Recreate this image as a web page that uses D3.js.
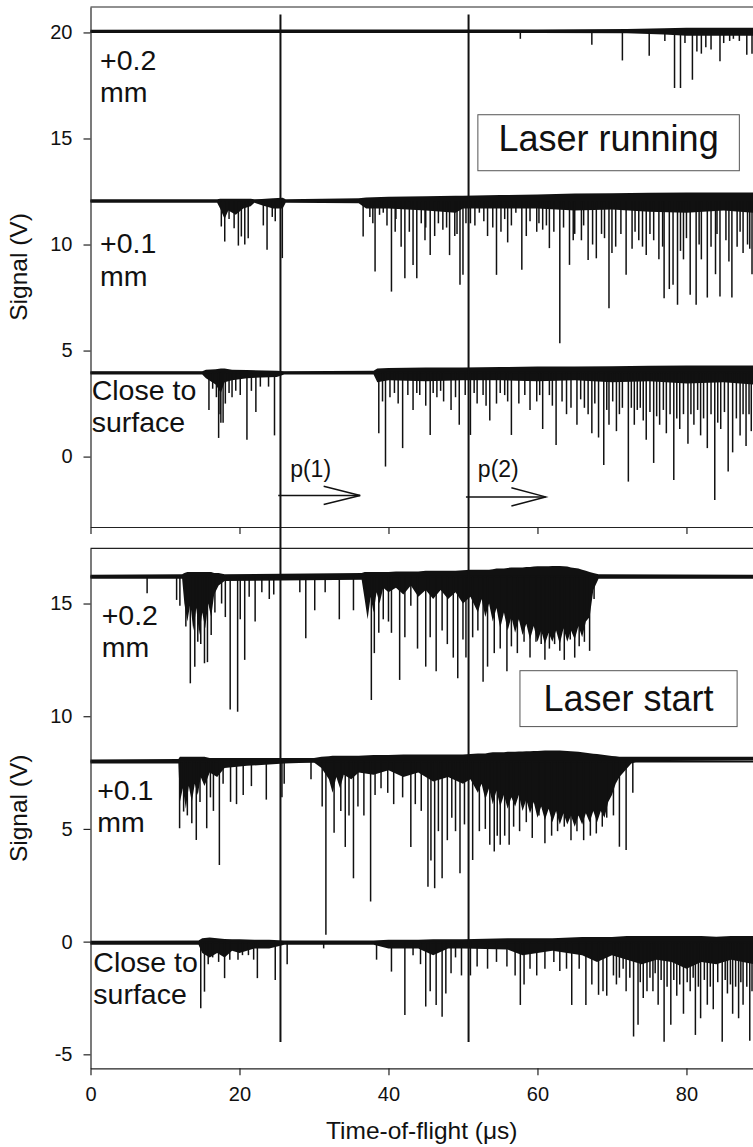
<!DOCTYPE html>
<html>
<head>
<meta charset="utf-8">
<script src="https://cdn.jsdelivr.net/npm/d3@7"></script>
<style>
  body { margin: 0; background: #fff; }
  text { font-family: Arial, 'Liberation Sans', sans-serif; fill: #111; }
</style>
</head>
<body>
<script>
// ticks
const xTicks = [0, 20, 40, 60, 80];
const topTicks = [0, 5, 10, 15, 20];
const botTicks = [-5, 0, 5, 10, 15];

// vertical marker lines (time, us)
const markerTimes = [25.5, 50.75];

// arrows p(1), p(2)
const arrowLabels = ['p(1)', 'p(2)'];
const arrowStart = [25.2, 50.4];
const arrowEnd = [36.2, 61.1];
const arrowHead = [31.3, 56.5];
const arrowY = [-1.83, -1.9];

// ---- Laser running (top panel) ----
const runBase = [20.05, 12.05, 3.95];

const runPlus02Band = [[0, 19.97, 20.13], [60, 19.97, 20.14], [72, 19.96, 20.16], [77, 19.9, 20.2], [80, 19.85, 20.22], [89, 19.85, 20.22]];
const runPlus02Spikes = [[57.7, 19.7], [67.3, 19.42], [71.4, 18.68], [75.0, 18.9], [77.1, 19.6], [78.4, 17.38], [79.2, 17.38],
  [79.8, 19.5], [80.8, 17.77], [81.4, 19.1], [82.0, 19.0], [82.6, 19.3], [83.3, 19.2], [84.5, 18.64], [85.0, 19.5],
  [85.8, 19.6], [86.3, 19.7], [87.1, 19.6], [88.1, 18.95], [88.8, 19.0]];

const runPlus01Band = [[0, 11.97, 12.13], [17, 11.97, 12.13], [17.4, 11.7, 12.16], [18, 11.2, 12.16], [18.5, 11.6, 12.16],
  [19.5, 11.4, 12.16], [20.5, 11.7, 12.16], [21.5, 11.8, 12.16], [22, 11.97, 12.14], [23, 11.85, 12.15], [24.5, 11.7, 12.18],
  [25.8, 11.7, 12.2], [26.2, 11.97, 12.14], [36, 11.95, 12.18], [37, 11.7, 12.22], [40, 11.7, 12.25], [45, 11.6, 12.28],
  [49, 11.5, 12.3], [50, 11.7, 12.3], [55, 11.7, 12.33], [60, 11.7, 12.36], [65, 11.6, 12.4], [70, 11.65, 12.42],
  [75, 11.55, 12.44], [80, 11.5, 12.45], [85, 11.6, 12.45], [89, 11.5, 12.45]];
const runPlus01Spikes = [[17.56, 10.85], [18.02, 10.14], [18.6, 11.2], [19.28, 10.77], [19.85, 9.95], [20.25, 10.38], [20.71, 10.0],
  [21.17, 10.3], [23.2, 10.9], [23.7, 9.75], [24.4, 11.3], [24.8, 11.1], [25.75, 9.36],
  [36.6, 10.38], [37.5, 11.3], [37.9, 11.0], [38.2, 8.73], [38.8, 11.4], [39.3, 11.5], [39.8, 10.9], [40.4, 7.78], [40.9, 10.6],
  [41.0, 11.2], [41.7, 9.9], [42.2, 8.41], [42.8, 10.6], [43.3, 9.04], [43.8, 8.41], [44.4, 11.0], [44.9, 10.2], [45.0, 10.8],
  [45.6, 9.51], [46.2, 10.4], [46.7, 11.0], [47.3, 10.7], [47.8, 10.8], [48.2, 9.5], [48.9, 10.4], [49.2, 10.5], [49.6, 8.1],
  [50.0, 8.57], [50.4, 11.0], [51.0, 11.0], [51.6, 10.9], [52.2, 11.5], [52.8, 11.1], [53.3, 10.4], [54.0, 10.8], [54.5, 8.57],
  [55.1, 10.6], [55.6, 11.2], [56.0, 10.1], [56.5, 10.9], [57.1, 11.5], [57.9, 8.81], [58.5, 10.4], [59.0, 11.1], [59.9, 10.6],
  [60.2, 11.0], [60.7, 10.7], [61.2, 10.9], [61.6, 9.83], [62.2, 10.6], [63.0, 5.35], [63.5, 10.8], [64.3, 9.04], [64.8, 10.2],
  [65.0, 10.5], [65.9, 10.2], [66.2, 10.9], [66.8, 9.27], [67.4, 10.0], [67.9, 9.35], [68.6, 10.5], [69.0, 10.3], [69.6, 7.0],
  [70.0, 9.6], [70.5, 9.9], [71.2, 10.5], [71.9, 8.57], [72.7, 9.8], [73.1, 10.6], [73.6, 10.2], [74.1, 9.9], [74.6, 9.5],
  [75.1, 10.5], [75.6, 10.2], [76.3, 9.3], [76.8, 9.9], [77.0, 7.47], [77.7, 7.9], [78.2, 8.1], [78.8, 7.16], [79.2, 9.7],
  [79.6, 9.3], [80.0, 10.3], [80.5, 7.63], [81.3, 7.16], [81.7, 10.0], [82.0, 9.3], [82.8, 7.5], [83.3, 9.9], [83.9, 8.6],
  [84.1, 10.5], [84.5, 7.55], [85.3, 10.2], [85.7, 9.2], [86.1, 7.5], [86.8, 9.9], [87.2, 10.6], [87.6, 9.6], [88.2, 10.0],
  [88.5, 9.8], [88.8, 8.6]];

const runCloseBand = [[0, 3.87, 4.03], [15, 3.87, 4.03], [15.5, 3.7, 4.1], [16.8, 3.4, 4.12], [17.5, 3.0, 4.15], [18, 3.5, 4.15],
  [19, 3.6, 4.1], [21, 3.7, 4.08], [25, 3.75, 4.05], [26, 3.87, 4.03], [38, 3.87, 4.05], [38.5, 3.5, 4.15], [40, 3.6, 4.18],
  [45, 3.55, 4.2], [50, 3.6, 4.2], [55, 3.6, 4.22], [60, 3.55, 4.25], [65, 3.6, 4.25], [70, 3.5, 4.26], [75, 3.55, 4.28],
  [80, 3.45, 4.3], [85, 3.5, 4.3], [89, 3.4, 4.3]];
const runCloseSpikes = [[15.9, 2.2], [16.4, 3.2], [16.9, 2.8], [17.2, 0.88], [17.4, 2.0], [17.5, 1.6], [17.8, 1.6], [18.1, 2.5],
  [18.6, 3.0], [19.0, 2.8], [19.5, 3.1], [20.1, 2.9], [21.0, 0.8], [21.6, 3.1], [22.2, 2.1], [22.8, 3.3], [23.9, 3.3], [24.7, 1.0],
  [38.7, 1.1], [39.2, 2.6], [39.6, -0.47], [40.2, 2.8], [40.8, 3.0], [41.3, 2.5], [41.9, 0.4], [42.6, 2.9], [43.3, 2.2],
  [43.8, 3.0], [44.2, 2.9], [45.0, 2.4], [45.6, 1.02], [46.0, 3.0], [46.5, 2.8], [47.0, 3.1], [47.4, 2.6], [48.4, 2.2],
  [49.0, 2.8], [49.5, 1.5], [50.3, 2.9], [51.0, 1.02], [51.5, 3.0], [51.9, 2.5], [52.7, 2.9], [53.1, 2.4], [53.6, 1.7],
  [54.5, 2.5], [55.0, 3.0], [55.6, 2.9], [56.0, 2.6], [56.5, 1.02], [57.5, 2.5], [58.3, 2.9], [59.0, 2.2], [59.9, 2.6],
  [60.3, 2.9], [60.7, 1.3], [61.6, 2.9], [62.0, 2.4], [62.5, 0.55], [63.3, 2.6], [63.9, 2.0], [64.5, 2.3], [65.3, 1.5],
  [65.8, 2.7], [66.3, 2.3], [66.8, 2.0], [67.3, 1.1], [67.7, 2.5], [68.2, 0.9], [68.9, -0.4], [69.3, 2.2], [69.6, 1.5],
  [70.1, 2.6], [70.6, 1.2], [71.0, 2.0], [71.4, 2.3], [72.2, -1.18], [72.6, 2.3], [73.0, 1.5], [73.4, 2.2], [73.8, 2.3],
  [74.2, 1.7], [74.6, 0.8], [75.1, 2.1], [75.6, -0.3], [76.0, 1.9], [76.4, 1.5], [76.9, 2.2], [77.3, 1.1], [77.8, 2.0],
  [78.3, -1.1], [78.7, 1.8], [79.1, 1.3], [79.6, 2.0], [80.2, 0.6], [80.6, 2.0], [81.0, 1.5], [81.5, 2.2], [81.9, 1.0],
  [82.3, 1.8], [82.8, 0.4], [83.3, 2.0], [83.8, -2.05], [84.2, 1.6], [84.6, 1.3], [85.1, 2.1], [85.6, -0.7], [86.2, 0.2],
  [86.7, 1.8], [87.2, 1.0], [87.6, 2.0], [88.0, 0.5], [88.4, 2.0], [88.7, 1.2]];

// ---- Laser start (bottom panel) ----
const startBase = [16.19, 7.99, -0.05];

const startPlus02Band = [[0, 16.1, 16.28], [12.3, 16.1, 16.3], [12.6, 15.0, 16.35], [13.0, 14.2, 16.4], [13.4, 15.0, 16.4],
  [13.8, 13.8, 16.4], [14.2, 14.8, 16.4], [14.6, 13.6, 16.4], [15.0, 14.6, 16.4], [15.4, 13.9, 16.4], [15.8, 15.0, 16.4],
  [16.2, 14.4, 16.4], [16.6, 15.4, 16.35], [17.2, 15.8, 16.35], [18, 16.0, 16.3], [36.4, 16.05, 16.35], [36.8, 15.2, 16.4],
  [37.2, 14.3, 16.4], [37.6, 15.3, 16.4], [38.0, 14.6, 16.4], [38.4, 15.5, 16.4], [38.8, 15.0, 16.4], [39.3, 15.7, 16.4],
  [40, 15.5, 16.4], [41, 15.7, 16.42], [42, 15.4, 16.42], [43, 15.8, 16.42], [44, 15.3, 16.42], [45, 15.6, 16.45],
  [46, 15.2, 16.45], [47, 15.6, 16.45], [48, 15.2, 16.45], [49, 15.5, 16.45], [50, 15.0, 16.48], [51, 15.3, 16.5],
  [52, 14.6, 16.5], [52.5, 15.2, 16.5], [53, 14.4, 16.5], [53.5, 15.0, 16.5], [54, 14.2, 16.52], [54.5, 14.8, 16.55],
  [55, 13.9, 16.55], [55.5, 14.6, 16.55], [56, 13.8, 16.58], [56.5, 14.4, 16.6], [57, 13.7, 16.6], [57.5, 14.3, 16.6],
  [58, 13.6, 16.6], [58.5, 14.1, 16.62], [59, 13.4, 16.62], [59.5, 14.0, 16.64], [60, 13.3, 16.65], [60.5, 13.8, 16.65],
  [61, 13.2, 16.65], [61.5, 13.7, 16.65], [62, 13.3, 16.66], [62.5, 13.8, 16.66], [63, 13.2, 16.66], [63.5, 13.9, 16.65],
  [64, 13.3, 16.64], [64.5, 13.8, 16.6], [65, 13.4, 16.58], [65.5, 14.0, 16.55], [66, 13.5, 16.5], [66.5, 14.2, 16.45],
  [67, 14.4, 16.4], [67.5, 15.6, 16.35], [68.2, 16.1, 16.3], [89, 16.1, 16.28]];
const startPlus02Spikes = [[7.6, 15.46], [11.56, 15.16], [12.0, 14.9], [12.8, 13.98], [13.4, 11.46], [14.0, 12.2], [14.4, 13.3],
  [14.8, 13.2], [15.3, 12.35], [15.7, 12.4], [16.2, 13.6], [16.7, 14.6], [17.6, 15.0], [18.1, 14.4], [18.75, 10.3],
  [19.75, 10.2], [20.1, 14.3], [20.7, 12.5], [21.3, 15.3], [22.1, 14.2], [23.0, 15.5], [24.0, 15.2], [24.6, 15.4],
  [28.1, 15.5], [28.9, 13.46], [30.1, 14.7], [31.5, 15.5], [33.4, 14.3], [35.3, 14.7], [37.0, 15.1], [37.7, 10.72],
  [38.1, 12.8], [38.7, 13.7], [39.3, 14.3], [40.0, 14.2], [40.4, 13.7], [41.5, 11.61], [42.2, 13.5], [43.0, 14.9],
  [43.9, 13.0], [45.0, 12.2], [45.6, 13.5], [46.4, 12.0], [47.2, 13.8], [47.9, 13.2], [48.7, 12.6], [49.3, 11.68],
  [50.0, 13.4], [50.4, 12.6], [51.3, 13.5], [52.0, 13.8], [52.7, 11.53], [53.3, 12.2], [54.2, 12.8], [55.0, 13.0],
  [55.9, 12.0], [56.5, 13.1], [57.3, 12.8], [58.2, 13.3], [59.0, 12.6], [59.8, 13.3], [60.5, 13.2], [61.0, 12.5],
  [61.6, 13.0], [62.3, 13.2], [63.0, 12.9], [63.6, 12.5], [64.4, 13.4], [65.0, 12.6], [65.6, 13.1], [66.3, 13.3],
  [67.0, 12.9], [67.6, 15.2]];

const startPlus01Band = [[0, 7.9, 8.08], [11.8, 7.9, 8.1], [12.0, 6.2, 8.2], [12.4, 6.8, 8.2], [12.8, 5.9, 8.2], [13.2, 6.9, 8.2],
  [13.6, 6.2, 8.2], [14.0, 7.0, 8.2], [14.4, 6.5, 8.2], [14.8, 7.3, 8.2], [15.3, 6.9, 8.2], [16, 7.5, 8.15], [17, 7.3, 8.15],
  [18, 7.7, 8.15], [21, 7.8, 8.15], [26, 7.9, 8.15], [30, 7.95, 8.15], [31, 7.7, 8.2], [32, 7.2, 8.22], [32.5, 6.6, 8.25],
  [33, 7.3, 8.25], [33.5, 6.8, 8.25], [34, 7.4, 8.25], [35, 7.2, 8.25], [36, 7.5, 8.25], [38, 7.4, 8.28], [40, 7.6, 8.28],
  [42, 7.3, 8.3], [44, 7.5, 8.3], [46, 7.1, 8.3], [48, 7.3, 8.3], [50, 7.0, 8.3], [51, 7.2, 8.32], [52, 6.6, 8.35],
  [52.5, 7.0, 8.35], [53, 6.3, 8.35], [53.5, 6.8, 8.38], [54, 6.1, 8.4], [54.5, 6.7, 8.4], [55, 6.0, 8.4], [55.5, 6.5, 8.4],
  [56, 5.9, 8.42], [56.5, 6.4, 8.42], [57, 6.0, 8.42], [57.5, 6.5, 8.44], [58, 5.8, 8.44], [58.5, 6.3, 8.45], [59, 5.7, 8.45],
  [59.5, 6.2, 8.46], [60, 5.5, 8.46], [60.5, 6.0, 8.47], [61, 5.4, 8.48], [61.5, 5.9, 8.48], [62, 5.3, 8.48], [62.5, 5.8, 8.48],
  [63, 5.2, 8.48], [63.5, 5.7, 8.47], [64, 5.2, 8.46], [64.5, 5.6, 8.45], [65, 5.1, 8.44], [65.5, 5.6, 8.42], [66, 5.2, 8.4],
  [66.5, 5.7, 8.38], [67, 5.3, 8.36], [67.5, 5.8, 8.34], [68, 5.3, 8.32], [68.5, 5.8, 8.3], [69, 5.5, 8.28], [69.5, 6.2, 8.26],
  [70, 6.5, 8.24], [70.5, 7.0, 8.22], [71, 7.3, 8.2], [71.8, 7.6, 8.2], [72.6, 7.9, 8.2], [73.5, 8.0, 8.2], [89, 8.05, 8.2]];
const startPlus01Spikes = [[11.96, 5.03], [12.5, 5.77], [13.0, 5.6], [13.6, 5.25], [14.2, 4.51], [14.7, 6.2], [15.6, 5.03],
  [16.1, 6.4], [16.5, 5.8], [17.3, 3.4], [17.8, 7.0], [18.8, 6.2], [19.6, 6.1], [20.5, 6.5], [21.6, 6.9], [23.6, 6.3],
  [25.7, 6.4], [26.0, 7.0], [29.6, 7.2], [31.1, 6.0], [31.6, 0.3], [32.7, 4.83], [33.6, 5.8], [34.2, 4.2], [34.7, 5.6],
  [35.3, 2.81], [35.9, 6.0], [36.7, 5.6], [37.6, 1.78], [38.2, 6.5], [39.0, 6.8], [39.9, 6.6], [40.7, 6.1], [41.9, 6.4],
  [43.0, 4.2], [43.6, 6.1], [44.4, 5.8], [45.3, 2.44], [45.7, 3.6], [46.2, 2.37], [46.7, 4.9], [47.2, 2.81], [47.9, 4.5],
  [48.5, 5.5], [49.0, 4.9], [49.6, 3.03], [50.2, 5.2], [51.3, 3.62], [52.2, 4.9], [53.0, 5.0], [53.6, 4.3], [54.2, 4.0],
  [54.6, 4.7], [55.0, 4.3], [55.6, 4.7], [56.2, 4.3], [56.8, 5.1], [57.6, 4.9], [58.5, 5.3], [59.3, 4.6], [60.2, 5.6],
  [61.0, 4.36], [61.9, 4.7], [62.7, 4.9], [63.6, 5.1], [64.5, 4.5], [65.3, 4.9], [66.2, 4.5], [67.1, 4.7], [67.9, 4.8],
  [68.7, 5.1], [69.3, 5.5], [70.2, 5.6], [71.0, 4.21], [71.9, 4.07], [72.8, 6.6]];

const startCloseBand = [[0, -0.14, 0.04], [14.5, -0.14, 0.05], [15, -0.5, 0.15], [16, -0.7, 0.18], [17, -0.5, 0.15],
  [18, -0.7, 0.12], [19, -0.4, 0.1], [20, -0.5, 0.1], [22, -0.3, 0.08], [24, -0.3, 0.08], [26, -0.14, 0.05], [38, -0.14, 0.05],
  [40, -0.3, 0.08], [44, -0.3, 0.08], [46, -0.6, 0.1], [48, -0.3, 0.1], [50, -0.3, 0.1], [56, -0.35, 0.15], [58, -0.6, 0.15],
  [62, -0.4, 0.15], [66, -0.6, 0.2], [68, -0.9, 0.2], [70, -0.6, 0.2], [72, -0.8, 0.25], [74, -1.0, 0.25], [76, -0.8, 0.25],
  [78, -0.9, 0.25], [80, -1.2, 0.25], [82, -0.9, 0.25], [84, -1.0, 0.22], [86, -0.8, 0.25], [89, -1.0, 0.25]];
const startCloseSpikes = [[14.8, -2.96], [15.3, -2.22], [15.8, -1.0], [16.4, -0.7], [17.2, -0.9], [18.0, -1.62], [18.7, -0.8],
  [19.8, -0.8], [20.4, -0.6], [21.2, -0.6], [21.9, -0.8], [22.4, -1.62], [24.8, -1.7], [26.4, -1.0], [31.3, -0.3],
  [38.4, -0.8], [40.4, -1.33], [42.2, -3.25], [43.3, -0.6], [44.3, -1.0], [45.0, -2.88], [45.6, -2.2], [46.4, -2.81],
  [47.2, -3.33], [47.7, -2.3], [48.4, -1.4], [49.0, -0.7], [49.8, -1.5], [51.0, -1.5], [51.9, -1.1], [53.3, -1.2],
  [54.5, -0.9], [55.9, -1.1], [57.0, -1.5], [57.7, -2.81], [58.2, -1.9], [59.0, -1.2], [59.9, -1.5], [61.0, -1.2],
  [62.2, -0.9], [63.0, -1.3], [63.9, -1.2], [64.6, -2.81], [65.6, -1.2], [66.5, -2.81], [67.3, -1.9], [68.2, -2.36],
  [68.8, -2.2], [69.3, -2.4], [70.2, -1.5], [70.6, -1.9], [71.0, -1.6], [71.5, -1.2], [71.9, -2.2], [72.4, -1.6],
  [72.9, -4.21], [73.5, -3.69], [73.8, -1.8], [74.2, -2.5], [74.7, -2.2], [75.1, -1.6], [75.5, -2.2], [75.8, -1.4],
  [76.2, -2.8], [76.6, -1.7], [77.0, -4.44], [77.4, -2.0], [77.9, -3.69], [78.3, -1.7], [78.7, -2.4], [79.1, -1.9],
  [79.6, -3.2], [80.1, -1.8], [80.5, -2.2], [80.9, -1.6], [81.2, -4.14], [81.6, -2.0], [81.9, -3.4], [82.4, -1.7],
  [82.8, -2.8], [83.2, -2.0], [83.6, -3.0], [84.2, -1.8], [84.8, -4.44], [85.2, -1.7], [85.5, -2.3], [85.9, -1.9],
  [86.2, -3.2], [86.6, -2.0], [87.0, -3.4], [87.3, -1.8], [87.6, -2.8], [88.1, -2.0], [88.5, -4.4], [88.8, -2.2]];

const W = 753, H = 1147;
const svg = d3.select('body').append('svg')
  .attr('width', W)
  .attr('height', H);

const x = d3.scaleLinear().domain([0, 89]).range([90.5, 753.5]);
const yTop = d3.scaleLinear().domain([-3.32, 21.2]).range([527, 7]);
const yBot = d3.scaleLinear().domain([-5.62, 17.45]).range([1068.3, 548.3]);

const ink = '#111';

const drawTrace = (y, base, band, spikes) => {
  let g = svg.append('g');
  let area = d3.area()
    .x((d) => x(d[0]))
    .y0((d) => y(d[1]))
    .y1((d) => y(d[2]));
  g.append('path').datum(band).attr('d', area).attr('fill', ink);
  g.append('line')
    .attr('x1', x(0)).attr('x2', x(89))
    .attr('y1', y(base)).attr('y2', y(base))
    .attr('stroke', ink).attr('stroke-width', 2);
  g.selectAll('line.spike')
    .data(spikes)
    .enter()
    .append('line')
    .attr('class', 'spike')
    .attr('x1', (d) => x(d[0]))
    .attr('x2', (d) => x(d[0]))
    .attr('y1', y(base))
    .attr('y2', (d) => y(d[1]))
    .attr('stroke', ink)
    .attr('stroke-width', 1.5);
};

drawTrace(yTop, runBase[0], runPlus02Band, runPlus02Spikes);
drawTrace(yTop, runBase[1], runPlus01Band, runPlus01Spikes);
drawTrace(yTop, runBase[2], runCloseBand, runCloseSpikes);
drawTrace(yBot, startBase[0], startPlus02Band, startPlus02Spikes);
drawTrace(yBot, startBase[1], startPlus01Band, startPlus01Spikes);
drawTrace(yBot, startBase[2], startCloseBand, startCloseSpikes);

// frames and axes
const styleAxis = (g) => {
  g.selectAll('path.domain').attr('stroke', '#222').attr('stroke-width', 1.2);
  g.selectAll('.tick line').attr('stroke', '#222').attr('stroke-width', 1.2);
  g.selectAll('.tick text')
    .attr('font-size', 20)
    .attr('font-family', "Arial, 'Liberation Sans', sans-serif")
    .attr('fill', ink);
};

[[yTop, topTicks], [yBot, botTicks]].forEach(([y, ticks], i) => {
  svg.append('g')
    .attr('transform', `translate(${x(0)},0)`)
    .call(d3.axisLeft(y).tickValues(ticks).tickSize(7).tickSizeOuter(0).tickPadding(11).tickFormat((d) => String(d)))
    .call(styleAxis);

  let xa = d3.axisBottom(x).tickValues(xTicks).tickSize(7).tickSizeOuter(0).tickPadding(12);
  if (i === 0) xa.tickFormat('');
  svg.append('g')
    .attr('transform', `translate(0,${y.range()[0]})`)
    .call(xa)
    .call(styleAxis);

  svg.append('line')
    .attr('x1', x(0)).attr('x2', W)
    .attr('y1', y.range()[1]).attr('y2', y.range()[1])
    .attr('stroke', '#222').attr('stroke-width', 1.2);

  svg.append('text')
    .attr('transform', `translate(27,${(y.range()[0] + y.range()[1]) / 2}) rotate(-90)`)
    .attr('text-anchor', 'middle')
    .attr('font-size', 24.5)
    .text('Signal (V)');
});

svg.append('text')
  .attr('x', (x(0) + W) / 2)
  .attr('y', 1139)
  .attr('text-anchor', 'middle')
  .attr('font-size', 24.5)
  .text('Time-of-flight (\u03bcs)');

// vertical markers across both panels
svg.selectAll('line.marker')
  .data(markerTimes)
  .enter()
  .append('line')
  .attr('class', 'marker')
  .attr('x1', (d) => x(d)).attr('x2', (d) => x(d))
  .attr('y1', yTop(20.85))
  .attr('y2', yBot(-4.45))
  .attr('stroke', ink)
  .attr('stroke-width', 2);

// arrows
arrowLabels.forEach((lab, i) => {
  let g = svg.append('g').attr('stroke', ink).attr('stroke-width', 1.5).attr('fill', 'none');
  g.append('line')
    .attr('x1', x(arrowStart[i])).attr('x2', x(arrowEnd[i]))
    .attr('y1', yTop(arrowY[i])).attr('y2', yTop(arrowY[i]));
  g.append('path')
    .attr('d', d3.line()([
      [x(arrowHead[i]), yTop(arrowY[i] + 0.43)],
      [x(arrowEnd[i]), yTop(arrowY[i])],
      [x(arrowHead[i]), yTop(arrowY[i] - 0.43)]
    ]));
  svg.append('text')
    .attr('x', x(arrowStart[i] + 1.6))
    .attr('y', yTop(-0.97))
    .attr('font-size', 23)
    .text(lab);
});

// trace labels
const runLabels = [['+0.2', 'mm', 1.28, 18.24], ['+0.1', 'mm', 1.28, 9.59], ['Close to', 'surface', 0.16, 2.67]];
const startLabels = [['+0.2', 'mm', 1.5, 14.05], ['+0.1', 'mm', 0.9, 6.29], ['Close to', 'surface', 0.38, -1.33]];

const drawLabels = (labels, y) => {
  labels.forEach(([l1, l2, tx, ty]) => {
    let t = svg.append('text')
      .attr('x', x(tx))
      .attr('y', y(ty))
      .attr('font-size', 28.5);
    t.append('tspan').text(l1);
    t.append('tspan').attr('x', x(tx)).attr('dy', 32.5).text(l2);
  });
};
drawLabels(runLabels, yTop);
drawLabels(startLabels, yBot);

// boxed titles
const boxes = [
  { y: yTop, text: 'Laser running', x0: 52.0, x1: 87.1, y0: 16.12, y1: 13.48, base: 14.42 },
  { y: yBot, text: 'Laser start', x0: 57.65, x1: 86.8, y0: 12.02, y1: 9.54, base: 10.24 }
];
boxes.forEach((b) => {
  svg.append('rect')
    .attr('x', x(b.x0)).attr('y', b.y(b.y0))
    .attr('width', x(b.x1) - x(b.x0))
    .attr('height', b.y(b.y1) - b.y(b.y0))
    .attr('fill', '#fff')
    .attr('stroke', '#555')
    .attr('stroke-width', 1);
  svg.append('text')
    .attr('x', (x(b.x0) + x(b.x1)) / 2)
    .attr('y', b.y(b.base))
    .attr('text-anchor', 'middle')
    .attr('font-size', 36)
    .text(b.text);
});
</script>
</body>
</html>
